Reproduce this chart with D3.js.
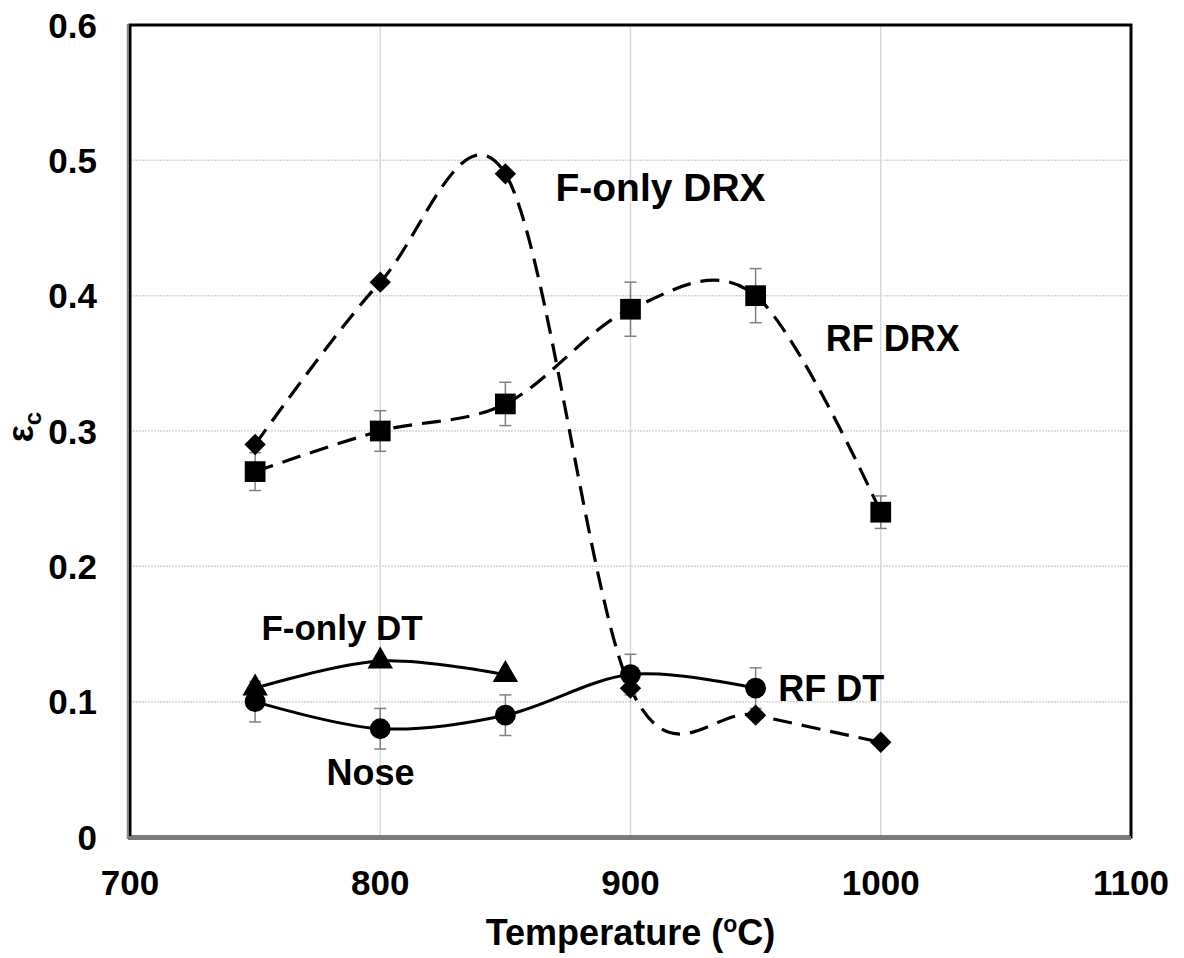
<!DOCTYPE html>
<html>
<head>
<meta charset="utf-8">
<script src="https://cdn.jsdelivr.net/npm/d3@7"></script>
<style>
  body { margin: 0; background: #fff; }
  text { font-family: "Liberation Sans", Arial, sans-serif; font-weight: bold; fill: #000; }
</style>
</head>
<body>
<div id="plot"></div>
<script>
// Chart size and plot margins
const margin = { top: 25, right: 53, bottom: 121, left: 130 },
      width = 1184 - margin.left - margin.right,
      height = 958 - margin.top - margin.bottom;

// Data
const temps = [750, 800, 850, 900, 950, 1000];
const fOnlyDrx = [0.29, 0.41, 0.49, 0.11, 0.09, 0.07];
const rfDrx = [0.27, 0.30, 0.32, 0.39, 0.40, 0.24];
const rfDrxErr = [0.014, 0.015, 0.016, 0.02, 0.02, 0.012];
const fOnlyDtTemps = [750, 800, 850];
const fOnlyDt = [0.11, 0.13, 0.12];
const rfDtTemps = [750, 800, 850, 900, 950];
const rfDt = [0.10, 0.08, 0.09, 0.12, 0.11];
const rfDtErr = [0.015, 0.015, 0.015, 0.015, 0.015];
const xTicks = [700, 800, 900, 1000, 1100];
const yTicks = [0, 0.1, 0.2, 0.3, 0.4, 0.5, 0.6];
const labels = [
  { text: "F-only DRX", t: 870, v: 0.48, size: 39 },
  { text: "RF DRX", t: 978, v: 0.369, size: 36 },
  { text: "F-only DT", t: 752.5, v: 0.155, size: 35 },
  { text: "RF DT", t: 959, v: 0.11, size: 36 },
  { text: "Nose", t: 778.5, v: 0.048, size: 36 }
];

const svg = d3.select("#plot")
    .append("svg")
    .attr("width", width + margin.left + margin.right)
    .attr("height", height + margin.top + margin.bottom)
  .append("g")
    .attr("transform", "translate(" + margin.left + "," + margin.top + ")");

const x = d3.scaleLinear().domain([700, 1100]).range([0, width]);
const y = d3.scaleLinear().domain([0, 0.6]).range([height, 0]);

// gridlines
svg.append("g")
  .selectAll("line")
  .data(yTicks.slice(1, -1))
  .enter().append("line")
    .attr("x1", 0).attr("x2", width)
    .attr("y1", d => y(d)).attr("y2", d => y(d))
    .attr("stroke", "#d4d4d4")
    .attr("stroke-width", 1.5)
    .attr("stroke-dasharray", "2,1");

svg.append("g")
  .selectAll("line")
  .data(xTicks.slice(1, -1))
  .enter().append("line")
    .attr("x1", d => x(d)).attr("x2", d => x(d))
    .attr("y1", 0).attr("y2", height)
    .attr("stroke", "#d9d9d9")
    .attr("stroke-width", 1.5);

// frame
svg.append("rect")
  .attr("x", 0).attr("y", 0)
  .attr("width", width).attr("height", height)
  .attr("fill", "none")
  .attr("stroke", "#000")
  .attr("stroke-width", 3);
svg.append("line")
  .attr("x1", -2).attr("x2", width)
  .attr("y1", height + 1).attr("y2", height + 1)
  .attr("stroke", "#7a7a7a")
  .attr("stroke-width", 4);
svg.append("line")
  .attr("x1", -2.5).attr("x2", -2.5)
  .attr("y1", -1).attr("y2", height + 2)
  .attr("stroke", "#888")
  .attr("stroke-width", 1.5);

// tick labels
svg.append("g")
  .selectAll("text")
  .data(yTicks)
  .enter().append("text")
    .attr("x", -33)
    .attr("y", d => y(d))
    .attr("dy", "0.36em")
    .attr("text-anchor", "end")
    .style("font-size", "35px")
    .text(d => d === 0 ? "0" : d3.format(".1f")(d));

svg.append("g")
  .selectAll("text")
  .data(xTicks)
  .enter().append("text")
    .attr("x", d => x(d))
    .attr("y", height + 45)
    .attr("dy", "0.36em")
    .attr("text-anchor", "middle")
    .style("font-size", "35px")
    .text(d => d);

// axis titles
const xt = svg.append("text")
  .attr("x", width / 2)
  .attr("y", height + 108)
  .attr("text-anchor", "middle")
  .style("font-size", "36px");
xt.append("tspan").text("Temperature (");
xt.append("tspan").attr("dy", -13).style("font-size", "23px").text("o");
xt.append("tspan").attr("dy", 13).text("C)");

const yt = svg.append("text")
  .attr("transform", "translate(" + (-97) + "," + (height / 2 - 4) + ") rotate(-90)")
  .attr("text-anchor", "middle")
  .style("font-size", "36px");
yt.append("tspan").text("ε");
yt.append("tspan").attr("dy", 8).style("font-size", "24px").text("c");

// lines
const smooth = d3.curveCardinal.tension(0);
const line = d3.line().x(d => x(d[0])).y(d => y(d[1])).curve(smooth);

const zip = (a, b) => a.map((t, i) => [t, b[i]]);

svg.append("path")
  .attr("d", line(zip(temps, fOnlyDrx)))
  .attr("fill", "none").attr("stroke", "#000")
  .attr("stroke-width", 3.2).attr("stroke-dasharray", "19,10");
svg.append("path")
  .attr("d", line(zip(temps, rfDrx)))
  .attr("fill", "none").attr("stroke", "#000")
  .attr("stroke-width", 3.2).attr("stroke-dasharray", "19,10");
svg.append("path")
  .attr("d", line(zip(fOnlyDtTemps, fOnlyDt)))
  .attr("fill", "none").attr("stroke", "#000")
  .attr("stroke-width", 3);
svg.append("path")
  .attr("d", line(zip(rfDtTemps, rfDt)))
  .attr("fill", "none").attr("stroke", "#000")
  .attr("stroke-width", 3);

// error bars
function errorBars(ts, vs, es) {
  const g = svg.append("g").attr("stroke", "#808080").attr("stroke-width", 1.5);
  ts.forEach((t, i) => {
    const cx = x(t), lo = y(vs[i] - es[i]), hi = y(vs[i] + es[i]);
    g.append("line").attr("x1", cx).attr("x2", cx).attr("y1", lo).attr("y2", hi);
    g.append("line").attr("x1", cx - 6).attr("x2", cx + 6).attr("y1", lo).attr("y2", lo);
    g.append("line").attr("x1", cx - 6).attr("x2", cx + 6).attr("y1", hi).attr("y2", hi);
  });
}
errorBars(temps, rfDrx, rfDrxErr);
errorBars(rfDtTemps, rfDt, rfDtErr);

// markers
function markers(ts, vs, type, size) {
  svg.append("g")
    .selectAll("path")
    .data(zip(ts, vs))
    .enter().append("path")
      .attr("transform", d => "translate(" + x(d[0]) + "," + y(d[1]) + ")")
      .attr("d", d3.symbol().type(type).size(size))
      .attr("fill", "#000");
}
markers(temps, fOnlyDrx, d3.symbolDiamond2, 290);
markers(temps, rfDrx, d3.symbolSquare, 430);
markers(fOnlyDtTemps, fOnlyDt, d3.symbolTriangle, 280);
markers(rfDtTemps, rfDt, d3.symbolCircle, 340);

// series labels
svg.append("g")
  .selectAll("text")
  .data(labels)
  .enter().append("text")
    .attr("x", d => x(d.t))
    .attr("y", d => y(d.v))
    .attr("dy", "0.36em")
    .style("font-size", d => d.size + "px")
    .text(d => d.text);
</script>
</body>
</html>
